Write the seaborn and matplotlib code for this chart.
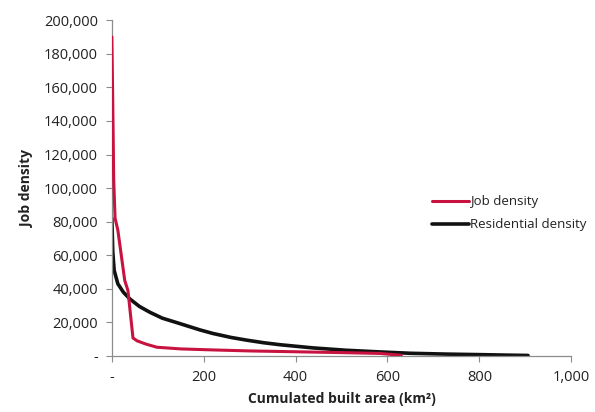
import matplotlib
matplotlib.use("Agg")
import matplotlib.pyplot as plt
import matplotlib.ticker as mticker
import seaborn as sns
import pandas as pd

# values
job_area = [0, 2, 4, 7, 13, 28, 35, 46, 55, 75, 98, 150, 220, 300, 400, 500, 584, 630]
job_density = [190000, 150000, 105000, 82000, 75000, 45000, 39000, 10700, 9000, 7000,
               5200, 4200, 3600, 3000, 2500, 2000, 1500, 400]

res_area = [0, 2, 5, 13, 25, 39, 60, 83, 110, 142, 192, 220, 260, 294, 330, 366, 438,
            510, 584, 650, 730, 800, 860, 906]
res_density = [82000, 62000, 51000, 43000, 38000, 34000, 29500, 26000, 22500, 19800,
               15500, 13400, 11000, 9400, 7900, 6700, 4800, 3400, 2400, 1600, 1100,
               800, 500, 300]

job = pd.DataFrame({"area": job_area, "density": job_density})
res = pd.DataFrame({"area": res_area, "density": res_density})

sns.set_style("white")
plt.rcParams['font.family'] = ['Open Sans', 'DejaVu Sans']

fig = plt.figure(figsize=(5.95, 4.12), dpi=100)
ax = fig.add_axes([0.188, 0.136, 0.772, 0.815])

sns.lineplot(data=res, x="area", y="density", color="#111111", linewidth=2.6,
             sort=False, ax=ax, label="Residential density", zorder=2)
sns.lineplot(data=job, x="area", y="density", color="#c8123f", linewidth=2.2,
             sort=False, ax=ax, label="Job density", zorder=3)

ax.set_xlim(0, 1000)
ax.set_ylim(0, 200000)
ax.set_xticks([0, 200, 400, 600, 800, 1000])
ax.set_yticks(range(0, 200001, 20000))

def fmt(v, pos):
    return "-" if v == 0 else f"{int(v):,}"

ax.xaxis.set_major_formatter(mticker.FuncFormatter(fmt))
ax.yaxis.set_major_formatter(mticker.FuncFormatter(fmt))

for side in ["top", "right"]:
    ax.spines[side].set_visible(False)
for side in ["left", "bottom"]:
    ax.spines[side].set_color("#8c8c8c")
    ax.spines[side].set_linewidth(0.9)

ax.tick_params(axis="both", which="major", length=4, width=0.8, color="#8c8c8c",
               direction="out", labelsize=10.5, labelcolor="#222222", pad=6,
               bottom=True, left=True)

ax.set_xlabel("Cumulated built area (km²)", fontsize=10, fontweight="bold",
              color="#222222", labelpad=5)
ax.set_ylabel("Job density", fontsize=10, fontweight="bold", color="#222222",
              labelpad=7)

handles, labels = ax.get_legend_handles_labels()
ax.legend(handles[::-1], labels[::-1], loc="center left", bbox_to_anchor=(0.68, 0.425),
          frameon=False, handlelength=2.8, handletextpad=0.1, labelspacing=0.75,
          fontsize=9.5, labelcolor="#222222", borderaxespad=0.2)

fig.savefig("out.png", dpi=100)
